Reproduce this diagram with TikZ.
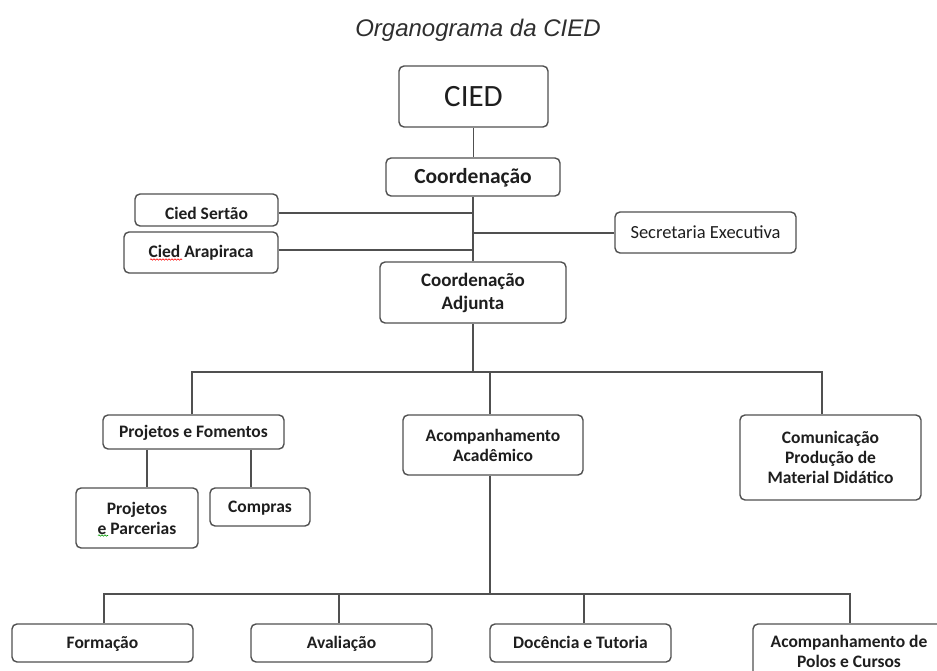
\documentclass[tikz,border=0pt]{standalone}
\usepackage{fontspec}
\setmainfont{Carlito}
\newfontfamily\titlefont{Liberation Sans}
\usetikzlibrary{decorations.pathmorphing}
\definecolor{linegray}{HTML}{505050}
\definecolor{txt}{HTML}{1E1E1E}
\definecolor{titlegray}{HTML}{2E2E2E}
\begin{document}
\begin{tikzpicture}[x=1pt,y=-1pt,
  box/.style={draw=linegray, line width=1.4pt, rounded corners=5pt, fill=white,
    align=center, inner sep=0pt, text=txt,
    font=\fontsize{17.5}{20}\selectfont\bfseries},
  oneline/.style={text height=#1, text depth=0pt},
  oneline/.default=11pt,
  conn/.style={draw=linegray, line width=1.4pt},
  squig/.style={decorate, decoration={snake, amplitude=0.7pt, segment length=3pt}, line width=0.6pt}]
\useasboundingbox (0,0) rectangle (937,671);
\clip (0,0) rectangle (937,671);

% title
\node[font=\titlefont\itshape\fontsize{24}{28}\selectfont, text=titlegray, anchor=base, inner sep=0pt]
  (title) at (478,37) {Organograma da CIED};

% boxes
\node[box, oneline=19.5pt, minimum width=149pt, minimum height=61pt, font=\fontsize{31}{36}\selectfont] (cied) at (473.5,96.5) {CIED};
\node[box, oneline=13.6pt, minimum width=174pt, minimum height=38pt, font=\fontsize{21.5}{26}\selectfont\bfseries] (coord) at (473,177) {Coordenação};
\node[box, oneline=18pt, minimum width=143pt, minimum height=32pt] (sertao) at (206.5,210) {Cied Sertão};
\node[box, oneline, minimum width=154pt, minimum height=41pt] (arap) at (201,252.5) {Cied Arapiraca};
\node[box, oneline=11.7pt, minimum width=181pt, minimum height=41pt, font=\fontsize{18.5}{22}\selectfont] (secr) at (705.5,232.5) {Secretaria Executiva};
\node[box, minimum width=186pt, minimum height=61pt, font=\fontsize{19}{23}\selectfont\bfseries] (adj) at (473,292.5) {Coordenação\\Adjunta};
\node[box, oneline, minimum width=181pt, minimum height=34pt] (pf) at (193.5,432) {Projetos e Fomentos};
\node[box, minimum width=180pt, minimum height=60pt] (acad) at (493,445) {Acompanhamento\\Acadêmico};
\node[box, minimum width=181pt, minimum height=85pt] (comm) at (830.5,457.5) {Comunicação\\Produção de\\Material Didático};
\node[box, minimum width=122pt, minimum height=60pt] (parc) at (137,518) {Projetos\\e Parcerias};
\node[box, oneline, minimum width=100pt, minimum height=38pt] (comp) at (260,507) {Compras};
\node[box, oneline, minimum width=181pt, minimum height=38pt] (form) at (102.5,643) {Formação};
\node[box, oneline, minimum width=181pt, minimum height=38pt] (aval) at (341.5,643) {Avaliação};
\node[box, oneline, minimum width=181pt, minimum height=38pt] (doc) at (580.5,643) {Docência e Tutoria};
\node[box, minimum width=192pt, minimum height=54pt] (polos) at (849,651) {Acompanhamento de\\Polos e Cursos};

% junction coordinates
\coordinate (jS) at (473,213);
\coordinate (jE) at (473,233);
\coordinate (jA) at (473,250);
\coordinate (b1) at (473,372);
\coordinate (bl) at (192,372);
\coordinate (br) at (822,372);
\coordinate (jac) at (490,372);
\coordinate (b2) at (490,594);
\coordinate (c1) at (104,594);
\coordinate (c2) at (339,594);
\coordinate (c3) at (584,594);
\coordinate (c4) at (850,594);
\coordinate (pp) at (147,470);
\coordinate (pc) at (251,470);

% connectors
\draw[conn] (cied.south) -- (cied.south |- coord.north);
\draw[conn] (coord.south) -- (adj.north);
\draw[conn] (jS -| sertao.east) -- (jS);
\draw[conn] (jA -| arap.east) -- (jA);
\draw[conn] (jE) -- (jE -| secr.west);
\draw[conn] (adj.south) -- (b1);
\draw[conn] (bl |- pf.north) -- (bl) -- (br) -- (br |- comm.north);
\draw[conn] (jac) -- (jac |- acad.north);
\draw[conn] (pp |- pf.south) -- (pp |- parc.north);
\draw[conn] (pc |- pf.south) -- (pc |- comp.north);
\draw[conn] (b2 |- acad.south) -- (b2);
\draw[conn] (c1 |- form.north) -- (c1) -- (c4) -- (c4 |- polos.north);
\draw[conn] (c2) -- (c2 |- aval.north);
\draw[conn] (c3) -- (c3 |- doc.north);

% spell-check marks
\draw[red, squig] (150,259.5) -- (182,259.5);
\draw[green!60!black, squig] (98,535.5) -- (108,535.5);
\end{tikzpicture}
\end{document}
